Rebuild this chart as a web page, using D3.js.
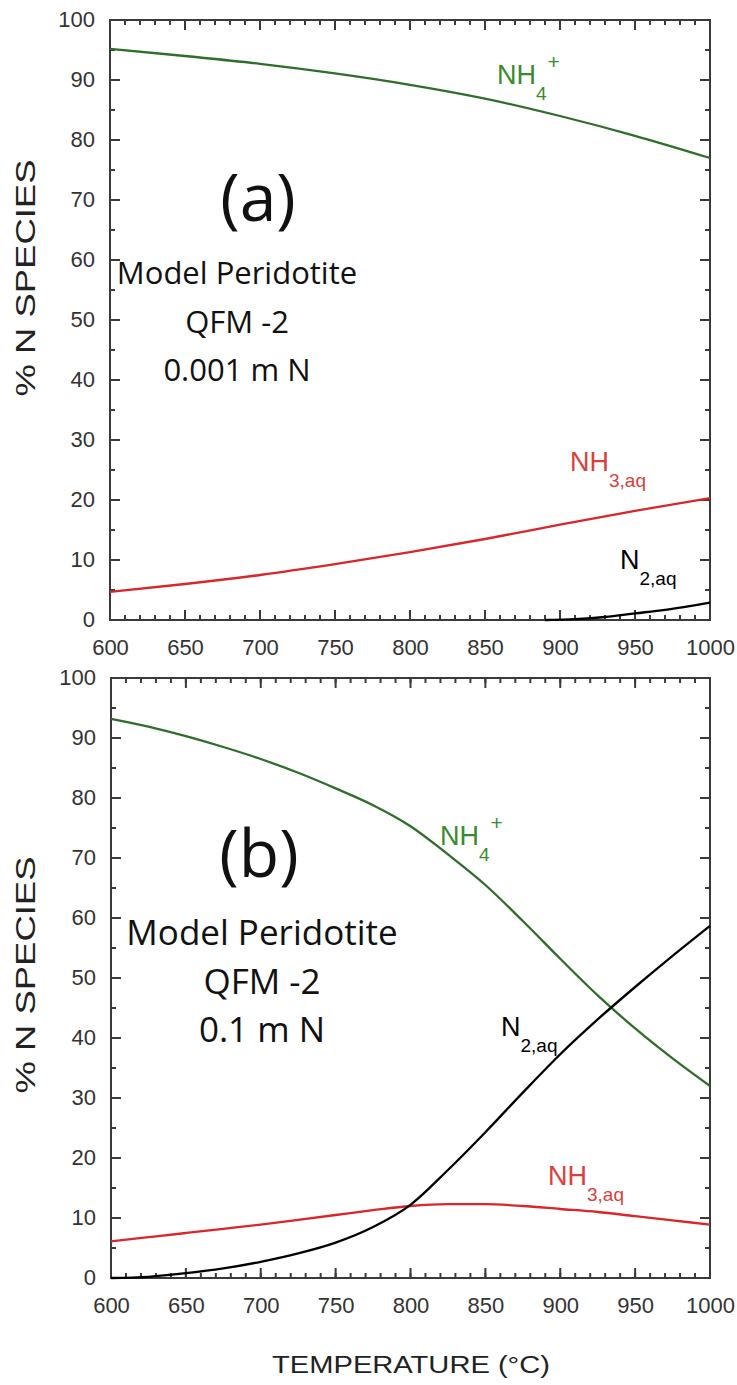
<!DOCTYPE html>
<html>
<head>
<meta charset="utf-8">
<script src="https://cdn.jsdelivr.net/npm/d3@7"></script>
<style>
  body { margin: 0; background: #fff; }
  svg { display: block; }
</style>
</head>
<body>
<div id="chart"></div>
<script>
// temperatures (°C) and % of N species
var tempsA = [600, 650, 700, 750, 800, 850, 900, 950, 1000];
var nh4A = [95.2, 94.0, 92.7, 91.1, 89.2, 86.9, 84.0, 80.7, 77.0];
var nh3A = [4.7, 6.0, 7.5, 9.3, 11.3, 13.5, 15.9, 18.2, 20.3];
var tempsN2A = [890, 910, 930, 950, 970, 1000];
var n2A = [0, 0.15, 0.5, 1.1, 1.7, 2.9];

var tempsB = [600, 625, 650, 675, 700, 725, 750, 775, 800, 825, 850, 875, 900, 925, 950, 975, 1000];
var nh4B = [93.2, 91.9, 90.3, 88.5, 86.5, 84.2, 81.6, 78.8, 75.3, 70.6, 65.5, 59.5, 53.2, 47.1, 41.6, 36.6, 32.0];
var nh3B = [6.1, 6.8, 7.5, 8.2, 8.9, 9.7, 10.5, 11.3, 12.0, 12.3, 12.3, 12.0, 11.5, 11.0, 10.3, 9.6, 8.9];
var n2B = [0, 0.2, 0.8, 1.6, 2.7, 4.1, 5.9, 8.5, 12.2, 18.0, 24.3, 30.9, 37.3, 43.1, 48.5, 53.7, 58.7];

var xTicks = [600, 650, 700, 750, 800, 850, 900, 950, 1000];
var yTicks = [0, 10, 20, 30, 40, 50, 60, 70, 80, 90, 100];
var xMinor = d3.range(600, 1001, 10);
var yMinor = d3.range(0, 101, 5);

var GREEN = "#2f6e2a", GREEN_TXT = "#3b8a2e";
var RED = "#d8262a", RED_TXT = "#d9403b";
var AXIS = "#3a3a3a";

var W = 737, H = 1385;
var svg = d3.select("#chart").append("svg")
    .attr("width", W)
    .attr("height", H);

function pairs(ts, vs) {
    return ts.map(function(t, i) { return [t, vs[i]]; });
}

function drawPanel(p) {
    var x = d3.scaleLinear().domain([600, 1000]).range([p.left, p.right]);
    var y = d3.scaleLinear().domain([0, 100]).range([p.bottom, p.top]);
    var g = svg.append("g");

    // inward ticks on all four sides
    var tg = g.append("g").attr("stroke", AXIS).attr("stroke-width", 2);
    [[xMinor, 5], [xTicks, 10]].forEach(function(t) {
        tg.selectAll(null).data(t[0]).enter().append("line")
            .attr("x1", function(d) { return x(d); }).attr("x2", function(d) { return x(d); })
            .attr("y1", p.bottom).attr("y2", p.bottom - t[1]);
        tg.selectAll(null).data(t[0]).enter().append("line")
            .attr("x1", function(d) { return x(d); }).attr("x2", function(d) { return x(d); })
            .attr("y1", p.top).attr("y2", p.top + t[1]);
    });
    [[yMinor, 5], [yTicks, 10]].forEach(function(t) {
        tg.selectAll(null).data(t[0]).enter().append("line")
            .attr("y1", function(d) { return y(d); }).attr("y2", function(d) { return y(d); })
            .attr("x1", p.left).attr("x2", p.left + t[1]);
        tg.selectAll(null).data(t[0]).enter().append("line")
            .attr("y1", function(d) { return y(d); }).attr("y2", function(d) { return y(d); })
            .attr("x1", p.right).attr("x2", p.right - t[1]);
    });

    // tick labels
    var bx = g.append("g").attr("transform", "translate(0," + p.bottom + ")")
        .call(d3.axisBottom(x).tickValues(xTicks).tickSize(0).tickPadding(19).tickFormat(d3.format("d")));
    var ly = g.append("g").attr("transform", "translate(" + p.left + ",0)")
        .call(d3.axisLeft(y).tickValues(yTicks).tickSize(0).tickPadding(15).tickFormat(d3.format("d")));
    [bx, ly].forEach(function(ax) {
        ax.select(".domain").remove();
        ax.selectAll("text")
            .attr("fill", "#333")
            .style("font-family", "Liberation Sans, Arial, sans-serif")
            .style("font-size", "22px");
    });
    ly.selectAll("text").attr("dy", "0.30em");

    g.append("rect")
        .attr("x", p.left).attr("y", p.top)
        .attr("width", p.right - p.left).attr("height", p.bottom - p.top)
        .attr("fill", "none").attr("stroke", AXIS).attr("stroke-width", 2);

    // y title
    g.append("text")
        .attr("transform", "translate(" + 35 + "," + p.ytitle + ") rotate(-90)")
        .attr("text-anchor", "middle")
        .attr("textLength", 237)
        .attr("lengthAdjust", "spacingAndGlyphs")
        .attr("fill", "#222")
        .style("font-family", "Liberation Sans, Arial, sans-serif")
        .style("font-size", "27px")
        .text("% N SPECIES");

    // curves
    var line = d3.line()
        .x(function(d) { return x(d[0]); })
        .y(function(d) { return y(d[1]); })
        .curve(d3.curveMonotoneX);

    p.series.forEach(function(s) {
        g.append("path")
            .datum(s.data)
            .attr("fill", "none")
            .attr("stroke", s.color)
            .attr("stroke-width", 2.3)
            .attr("d", line);
    });

    // species labels
    p.labels.forEach(function(l) {
        var t = g.append("text")
            .attr("x", l.x).attr("y", l.y)
            .attr("fill", l.color)
            .style("font-family", "Liberation Sans, Arial, sans-serif")
            .style("font-size", "27px");
        t.append("tspan").text(l.main);
        t.append("tspan").attr("dy", 16).style("font-size", "19px").text(l.sub);
        if (l.sup) {
            t.append("tspan").attr("dx", 1).attr("dy", -31).style("font-size", "21px").text(l.sup);
        }
    });

    // panel annotation
    g.append("text")
        .attr("x", p.tag[0]).attr("y", p.tag[1])
        .attr("text-anchor", "middle")
        .style("font-family", "Open Sans, sans-serif")
        .style("font-size", "66px")
        .attr("fill", "#111")
        .text(p.tagText);
    p.notes.forEach(function(n, i) {
        g.append("text")
            .attr("x", p.noteX).attr("y", p.noteY + i * 48.5)
            .attr("text-anchor", "middle")
            .style("font-family", "Open Sans, sans-serif")
            .style("font-size", p.noteSize + "px")
            .attr("fill", "#111")
            .text(n);
    });
}

drawPanel({
    left: 110, right: 710, top: 20, bottom: 620, ytitle: 278,
    series: [
        {data: pairs(tempsA, nh4A), color: GREEN},
        {data: pairs(tempsA, nh3A), color: RED},
        {data: pairs(tempsN2A, n2A), color: "#000"}
    ],
    labels: [
        {x: 497, y: 84, main: "NH", sub: "4", sup: "+", color: GREEN_TXT},
        {x: 570, y: 471, main: "NH", sub: "3,aq", color: RED_TXT},
        {x: 620, y: 569, main: "N", sub: "2,aq", color: "#000"}
    ],
    tag: [258, 221], tagText: "(a)",
    noteX: 237, noteY: 284, noteSize: 31,
    notes: ["Model Peridotite", "QFM -2", "0.001 m N"]
});

drawPanel({
    left: 111, right: 710, top: 678, bottom: 1278, ytitle: 975,
    series: [
        {data: pairs(tempsB, nh4B), color: GREEN},
        {data: pairs(tempsB, nh3B), color: RED},
        {data: pairs(tempsB, n2B), color: "#000"}
    ],
    labels: [
        {x: 440, y: 845, main: "NH", sub: "4", sup: "+", color: GREEN_TXT},
        {x: 548, y: 1185, main: "NH", sub: "3,aq", color: RED_TXT},
        {x: 501, y: 1036, main: "N", sub: "2,aq", color: "#000"}
    ],
    tag: [259, 877], tagText: "(b)",
    noteX: 262, noteY: 945, noteSize: 35,
    notes: ["Model Peridotite", "QFM -2", "0.1 m N"]
});

// x title
svg.append("text")
    .attr("x", 411).attr("y", 1373)
    .attr("text-anchor", "middle")
    .attr("textLength", 278)
    .attr("lengthAdjust", "spacingAndGlyphs")
    .attr("fill", "#222")
    .style("font-family", "Liberation Sans, Arial, sans-serif")
    .style("font-size", "23px")
    .text("TEMPERATURE (°C)");
</script>
</body>
</html>
